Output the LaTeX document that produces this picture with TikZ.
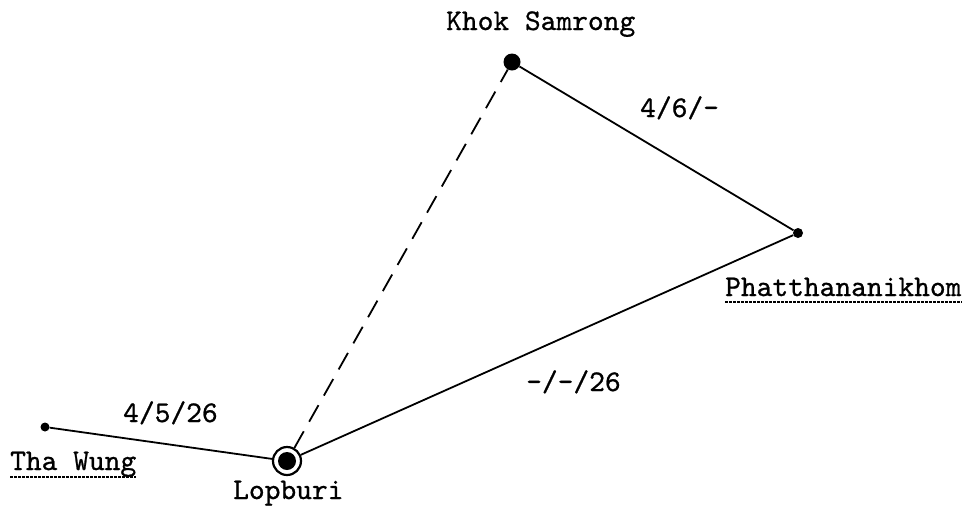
\documentclass[tikz,border=0pt]{standalone}
\usepackage{fontspec}
\newfontfamily\twfont{lmmono10-regular}[Extension=.otf,FakeBold=0.8]
\begin{document}
\begin{tikzpicture}[x=1pt,y=-1pt,
  every node/.style={inner sep=0pt},
  lbl/.style={anchor=base west,font=\twfont\fontsize{30}{36}\selectfont},
  dotnode/.style={circle,fill=black,minimum size=#1},
  route/.style={line width=1.8pt,black},
  ul/.style={line width=1.3pt,dash pattern=on 3pt off 1pt}]
\useasboundingbox (0,0) rectangle (972,515);
% places
\node[dotnode=9pt] (tw) at (45,427) {};
\node[dotnode=17pt] (ks) at (512,62) {};
\node[dotnode=10pt] (ph) at (798,233) {};
\node[circle,draw=black,line width=2.2pt,minimum size=28pt] (lb) at (287,461) {};
\node[dotnode=18pt] (lbin) at (287,461) {};
% routes
\draw[route] (tw) -- (lb);
\draw[route] (lb) -- (ph);
\draw[route] (ks) -- (ph);
\draw[route,dash pattern=on 19pt off 11pt] (lb) -- (ks);
% place names
\node[lbl] (ksl) at (446,30) {Khok Samrong};
\node[lbl] (phl) at (725,296) {Phatthananikhom};
\node[lbl] (twl) at (10,470) {Tha Wung};
\node[lbl] (lbl) at (233,499) {Lopburi};
\draw[ul] ([yshift=-6pt]phl.base west) -- ([yshift=-6pt]phl.base east);
\draw[ul] ([yshift=-7pt]twl.base west) -- ([yshift=-7pt]twl.base east);
% route labels
\node[lbl] (l1) at (640,117) {4/6/-};
\node[lbl] (l2) at (526,391) {-/-/26};
\node[lbl] (l3) at (123,422) {4/5/26};
\end{tikzpicture}
\end{document}
